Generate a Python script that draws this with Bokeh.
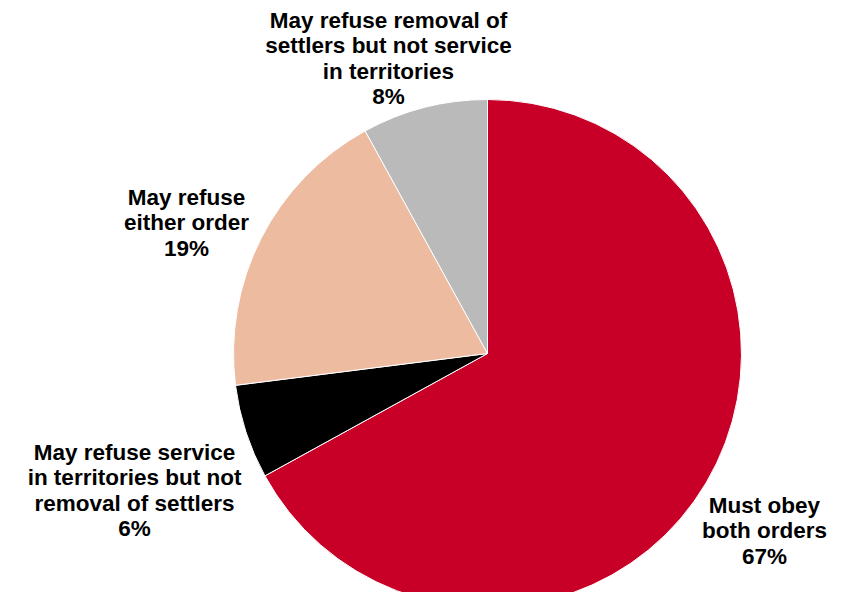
import math
from bokeh.plotting import figure
from bokeh.models import Range1d, ColumnDataSource
from bokeh.core.properties import value
from bokeh.embed import file_html
from bokeh.resources import INLINE

# Data (clockwise from 12 o'clock)
categories = [
    "Must obey both orders",
    "May refuse service in territories but not removal of settlers",
    "May refuse either order",
    "May refuse removal of settlers but not service in territories",
]
percents = [67, 6, 19, 8]
colors = ["#C80028", "#000000", "#EDBBA0", "#BABABA"]
label_texts = [
    "Must obey\nboth orders\n67%",
    "May refuse service\nin territories but not\nremoval of settlers\n6%",
    "May refuse\neither order\n19%",
    "May refuse removal of\nsettlers but not service\nin territories\n8%",
]

# Layout (screen-pixel coordinates, y measured from bottom of window)
H = 608
cx, cy, r = 487, H - 353, 254
label_x = [764, 134, 186, 388]
label_y_screen = [530, 490, 222, 58]

total = sum(percents)
starts, ends = [], []
cum = 0.0
for v in percents:
    starts.append(math.pi / 2 - 2 * math.pi * cum / total)
    cum += v
    ends.append(math.pi / 2 - 2 * math.pi * cum / total)

src = ColumnDataSource(dict(
    cat=categories, pct=percents, color=colors,
    start=starts, end=ends,
    x=[cx] * len(percents), y=[cy] * len(percents),
))

p = figure(width=837, height=592, output_backend="svg", toolbar_location=None,
           x_range=Range1d(0, 837), y_range=Range1d(16, 608),
           min_border=0, outline_line_color=None)
p.axis.visible = False
p.grid.visible = False
p.background_fill_color = "white"
p.border_fill_color = "white"

p.wedge(x="x", y="y", radius=r, radius_units="data", start_angle="start", end_angle="end",
        direction="clock", fill_color="color", line_color="white", line_width=1, source=src)

lsrc = ColumnDataSource(dict(x=label_x, y=[H - v for v in label_y_screen], text=label_texts))
p.text(x="x", y="y", text="text", source=lsrc, text_align="center", text_baseline="middle",
       text_font=value("Liberation Sans"), text_font_style="bold", text_font_size="22.5px",
       text_line_height=1.02, text_color="black")

open("out.html", "w").write(file_html(p, INLINE))
